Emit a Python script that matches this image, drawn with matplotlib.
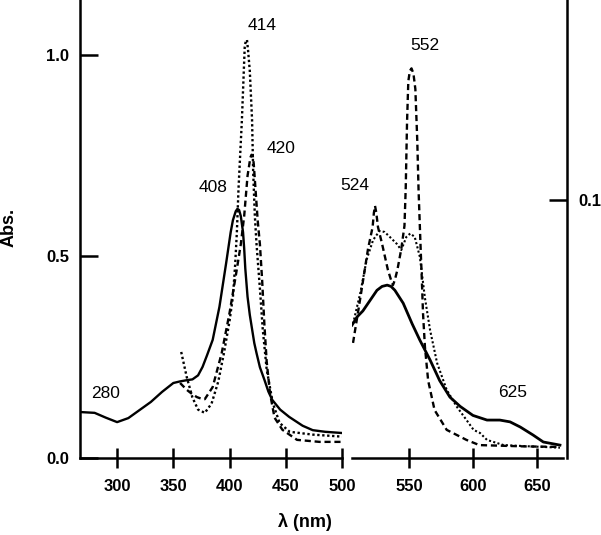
import matplotlib
matplotlib.use("Agg")
import matplotlib.pyplot as plt

plt.rcParams['font.family'] = ['Liberation Sans', 'DejaVu Sans']

# Soret region (left panel, left axis)
wl_solid_uv = [267, 280, 290, 300, 310, 320, 330, 340, 350, 356, 362, 367, 372, 376, 380, 385, 391, 397,
               401, 403, 405.5, 407, 408.5, 410, 412, 413, 414, 416, 418, 420, 422, 424, 427, 431, 434.5,
               438, 445, 453, 465, 474, 485, 500]
abs_solid_uv = [0.114, 0.112, 0.100, 0.089, 0.099, 0.119, 0.139, 0.164, 0.186, 0.190, 0.193, 0.195, 0.205,
                0.226, 0.255, 0.293, 0.375, 0.484, 0.56, 0.59, 0.612, 0.618, 0.615, 0.60, 0.56, 0.52, 0.47,
                0.40, 0.355, 0.32, 0.285, 0.26, 0.225, 0.194, 0.165, 0.144, 0.12, 0.102, 0.08, 0.069,
                0.065, 0.062]

wl_dot_uv = [357, 362, 367, 372, 378, 384, 390, 395, 400, 403, 405, 406.5, 408, 411, 413.5, 414.5, 415.5,
             416.5, 418, 420, 421, 422.5, 424, 427, 429.5, 433, 438.5, 444.5, 453.5, 474, 500]
abs_dot_uv = [0.263, 0.20, 0.15, 0.12, 0.112, 0.135, 0.19, 0.26, 0.34, 0.40, 0.48, 0.56, 0.67, 0.84, 1.02,
              1.035, 1.037, 1.01, 0.96, 0.84, 0.71, 0.60, 0.53, 0.42, 0.32, 0.22, 0.136, 0.087, 0.065,
              0.058, 0.053]

wl_dash_uv = [356, 362, 367, 371, 375, 378, 385, 393, 400, 406, 410, 413, 416, 418.5, 419.5, 420.6, 421.5,
              422.5, 425, 427, 429, 431, 433, 436, 440, 447, 460, 480, 500]
abs_dash_uv = [0.186, 0.169, 0.158, 0.151, 0.147, 0.146, 0.176, 0.26, 0.36, 0.46, 0.53, 0.60, 0.70, 0.745,
               0.752, 0.75, 0.73, 0.69, 0.59, 0.53, 0.44, 0.33, 0.24, 0.16, 0.10, 0.07, 0.045, 0.04, 0.04]

# Q-band region (right panel, right axis)
wl_solid_vis = [505.5, 509.5, 514, 519.5, 525, 529, 533, 536, 539, 545.5, 552.5, 558.5, 566.5, 574, 582,
                590, 600, 611, 621, 629, 637, 647, 655, 668]
abs_solid_vis = [0.0515, 0.0547, 0.057, 0.061, 0.065, 0.0665, 0.067, 0.0665, 0.065, 0.060, 0.052, 0.0457,
                 0.038, 0.030, 0.0236, 0.020, 0.0165, 0.0147, 0.0147, 0.014, 0.012, 0.0089, 0.0062, 0.005]

wl_dot_vis = [506.3, 512, 517, 522, 527, 531, 535, 540.5, 544, 548, 551, 554.5, 558.5, 562.5, 566.5, 572,
              579.5, 587.5, 595, 600.5, 605.5, 611, 624, 645, 668]
abs_dot_vis = [0.052, 0.064, 0.077, 0.0845, 0.088, 0.0876, 0.0857, 0.083, 0.0806, 0.0857, 0.087, 0.0857,
               0.078, 0.062, 0.0496, 0.0368, 0.0264, 0.0198, 0.0147, 0.0109, 0.0097, 0.007, 0.005, 0.0045,
               0.004]

wl_dash_vis = [506.3, 512, 518, 521.6, 522.6, 523.5, 524.5, 525.8, 529, 533.5, 536, 537.5, 539, 541, 544,
               546.5, 547.5, 548.5, 549.5, 550.7, 552, 553.5, 555, 556.5, 557.5, 559, 560, 561, 562.5, 565,
               570, 579.5, 595, 605, 640, 668]
abs_dash_vis = [0.0446, 0.062, 0.081, 0.0895, 0.095, 0.0977, 0.095, 0.0895, 0.083, 0.073, 0.069, 0.067,
                0.069, 0.073, 0.081, 0.09, 0.105, 0.13, 0.146, 0.150, 0.151, 0.149, 0.143, 0.123, 0.104,
                0.083, 0.07, 0.056, 0.043, 0.030, 0.0186, 0.0109, 0.007, 0.005, 0.0045, 0.0043]

peak_labels_uv = [('414', 428.6, 1.072), ('420', 445.5, 0.767), ('408', 385, 0.67), ('280', 290, 0.159)]
peak_labels_vis = [('552', 562.5, 0.160), ('524', 507.8, 0.1058), ('625', 631.3, 0.0252)]

fig = plt.figure(figsize=(6.01, 5.35), dpi=100)
ax1 = fig.add_axes([80 / 601, 77 / 535, 262 / 601, 458 / 535])
ax2 = fig.add_axes([352 / 601, 77 / 535, 215 / 601, 458 / 535])

lw = 1.7
dot = (0, (1, 1.1))
dash = (0, (2.6, 1.6))

ax1.plot(wl_solid_uv, abs_solid_uv, color='black', lw=lw, ls='-')
ax1.plot(wl_dot_uv, abs_dot_uv, color='black', lw=lw, ls=dot)
ax1.plot(wl_dash_uv, abs_dash_uv, color='black', lw=lw, ls=dash)
ax2.plot(wl_solid_vis, abs_solid_vis, color='black', lw=lw + 0.3, ls='-')
ax2.plot(wl_dot_vis, abs_dot_vis, color='black', lw=lw - 0.2, ls=dot)
ax2.plot(wl_dash_vis, abs_dash_vis, color='black', lw=lw, ls=dash)

ax1.set_xlim(267, 500)
ax1.set_ylim(0, 1.136)
ax2.set_xlim(505.5, 673.5)
ax2.set_ylim(0, 0.1775)

for sp in ['top', 'right']:
    ax1.spines[sp].set_visible(False)
for sp in ['top', 'left']:
    ax2.spines[sp].set_visible(False)
for ax in (ax1, ax2):
    for sp in ax.spines.values():
        sp.set_linewidth(1.8)
    ax.set_facecolor('none')
ax2.spines['bottom'].set_bounds(505.5, 670)

ax1.set_xticks([300, 350, 400, 450, 500])
ax1.set_yticks([0.0, 0.5, 1.0])
ax1.set_yticklabels(['0.0', '0.5', '1.0'])
ax2.set_xticks([550, 600, 650])
ax2.yaxis.tick_right()
ax2.set_yticks([0.1])
ax2.set_yticklabels(['0.1'])

for ax in (ax1, ax2):
    ax.tick_params(axis='x', direction='inout', length=14, width=1.8, pad=8, labelsize=12)
    ax.tick_params(axis='y', direction='in', length=13, width=1.8, pad=8, labelsize=12)
    for t in ax.get_xticklabels() + ax.get_yticklabels():
        t.set_fontweight('bold')

for txt, x, y in peak_labels_uv:
    ax1.text(x, y, txt, ha='center', va='center', fontsize=12.5, clip_on=False)
for txt, x, y in peak_labels_vis:
    ax2.text(x, y, txt, ha='center', va='center', fontsize=12.5, clip_on=False)

fig.text(9 / 601, 1 - 227 / 535, 'Abs.', rotation=90, ha='center', va='center',
         fontsize=13, fontweight='bold')
fig.text(305 / 601, 1 - 522 / 535, 'λ (nm)', ha='center', va='center',
         fontsize=13, fontweight='bold')

fig.savefig('out.png', dpi=100)
